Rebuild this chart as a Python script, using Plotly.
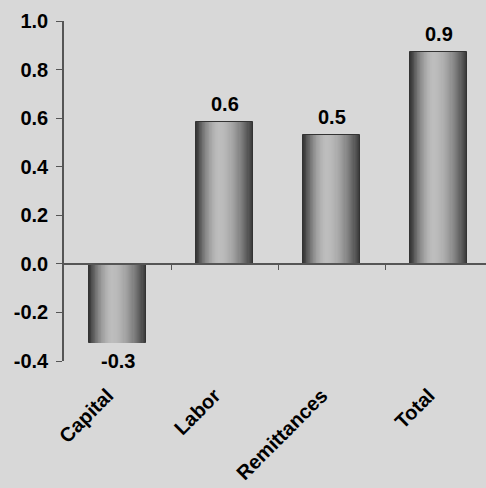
import plotly.graph_objects as go

categories = ["Capital", "Labor", "Remittances", "Total"]
values = [-0.325, 0.584, 0.531, 0.872]
value_labels = ["-0.3", "0.6", "0.5", "0.9"]
y_ticks = [-0.4, -0.2, 0.0, 0.2, 0.4, 0.6, 0.8, 1.0]
y_tick_text = ["-0.4", "-0.2", "0.0", "0.2", "0.4", "0.6", "0.8", "1.0"]

FONT = "Arial, Liberation Sans, sans-serif"
BG = "#d8d8d8"
idx = list(range(len(categories)))

fig = go.Figure()

# cylinder-like gradient built from nested bars
BAR_W = 0.53
n_layers = 30
dark = (56, 56, 56)
light = (190, 190, 190)
for i in range(n_layers):
    frac = 1 - i / n_layers
    w = BAR_W * frac
    t = frac ** 1.8
    c = tuple(int(light[k] + (dark[k] - light[k]) * t) for k in range(3))
    shift = -0.05 * (1 - frac)
    fig.add_trace(go.Bar(
        x=categories, y=values, width=w,
        offset=[-w / 2 + shift] * len(categories),
        marker=dict(color="rgb(%d,%d,%d)" % c,
                    line=dict(color="#333333", width=1 if i == 0 else 0)),
        hoverinfo="skip", showlegend=False,
    ))

# helper trace for the zero-line axis
fig.add_trace(go.Scatter(x=idx, y=values, xaxis="x2", mode="lines",
                         line=dict(width=0), hoverinfo="skip", showlegend=False))

for i, (v, lab) in enumerate(zip(values, value_labels)):
    fig.add_annotation(x=categories[i], y=v, text=lab, showarrow=False,
                       yanchor="bottom" if v >= 0 else "top",
                       yshift=5 if v >= 0 else -5,
                       font=dict(family=FONT, size=20, color="black", weight="bold"))

fig.update_layout(
    width=486, height=488,
    margin=dict(l=64, r=0, t=21, b=127),
    paper_bgcolor=BG, plot_bgcolor=BG,
    barmode="overlay", bargap=0,
    xaxis=dict(range=[-0.5, 3.44], showline=False, ticks="", showgrid=False,
               zeroline=False, tickangle=-45, ticklabelstandoff=18,
               ticklabelshift=-10,
               tickfont=dict(family=FONT, size=20, color="black", weight="bold")),
    xaxis2=dict(overlaying="x", anchor="free", position=0.4 / 1.4,
                range=[-0.5, 3.44], showline=True, linecolor="#555555", linewidth=1.5,
                tickvals=[0.5, 1.5, 2.5], ticks="outside", ticklen=5,
                tickcolor="#555555", showticklabels=False, showgrid=False,
                zeroline=False),
    yaxis=dict(range=[-0.4, 1.0], tickvals=y_ticks, ticktext=y_tick_text,
               showline=True, linecolor="#555555", linewidth=1.5,
               ticks="outside", ticklen=6, tickcolor="#555555",
               showgrid=False, zeroline=False, ticklabelstandoff=4,
               tickfont=dict(family=FONT, size=20, color="black", weight="bold")),
)

fig.write_html("out.html", config={"displayModeBar": False},
               post_script="document.body.style.margin='0';")
